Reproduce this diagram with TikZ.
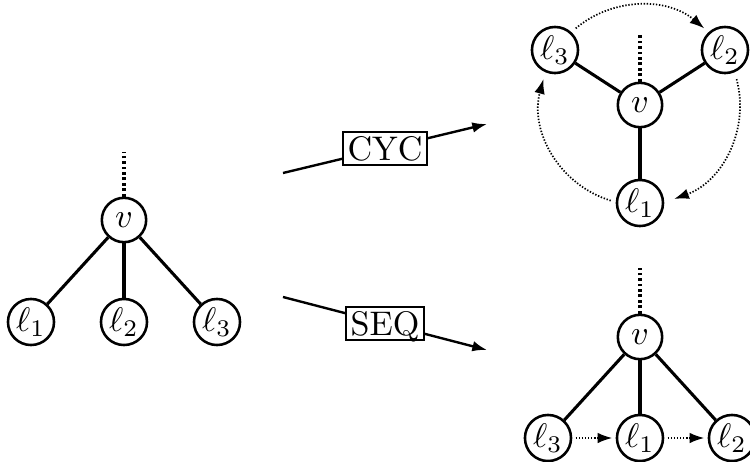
\documentclass[tikz,border=0pt]{standalone}
\usepackage{amsmath}
\usetikzlibrary{arrows.meta}
\begin{document}
\begin{tikzpicture}[x=1.03cm, y=1.03cm, >={Latex[length=4.3pt, width=3.1pt]}]
    \tikzset{vert/.style={draw, circle, line width=0.75pt, inner sep=0.5pt, minimum size=13pt}}
    \tikzset{op/.style={draw, line width=0.6pt, fill=white, inner sep=1.4pt, text depth=0pt}}
    \tikzset{edge/.style={line width=0.9pt}}
    \tikzset{up/.style={line width=0.9pt, dash pattern=on 0.8pt off 0.8pt}}
    \tikzset{move/.style={line width=0.5pt, dash pattern=on 0.4pt off 0.5pt, ->}}
    \useasboundingbox (0,0) rectangle (7.5,4.61);
    % input tree
    \node[vert] (v) at (1.24,2.41) {$v$};
    \node[vert] (l1) at (0.31,1.39) {$\ell_1$};
    \node[vert] (l2) at (1.24,1.39) {$\ell_2$};
    \node[vert] (l3) at (2.17,1.39) {$\ell_3$};
    \coordinate (vtop) at (1.24,3.09);
    \draw[up] (v) -- (vtop);
    \draw[edge] (v) -- (l1);
    \draw[edge] (v) -- (l2);
    \draw[edge] (v) -- (l3);
    % operations
    \coordinate (cycs) at (2.83,2.88);
    \coordinate (cyce) at (4.87,3.37);
    \coordinate (seqs) at (2.83,1.64);
    \coordinate (seqe) at (4.87,1.11);
    \draw[line width=0.7pt, ->] (cycs) -- node[op] {CYC} (cyce);
    \draw[line width=0.7pt, ->] (seqs) -- node[op] {SEQ} (seqe);
    % cyclic
    \node[vert] (cv) at (6.40,3.56) {$v$};
    \node[vert] (cl1) at (6.40,2.58) {$\ell_1$};
    \node[vert] (cl2) at (7.25,4.11) {$\ell_2$};
    \node[vert] (cl3) at (5.55,4.11) {$\ell_3$};
    \coordinate (cvtop) at (6.40,4.26);
    \draw[up] (cv) -- (cvtop);
    \draw[edge] (cv) -- (cl1);
    \draw[edge] (cv) -- (cl2);
    \draw[edge] (cv) -- (cl3);
    \draw[move] ([shift={(130:1.03cm)}]cv.center) arc[start angle=130, end angle=50, radius=1.03cm];
    \draw[move] ([shift={(15:1.03cm)}]cv.center) arc[start angle=15, end angle=-70, radius=1.03cm];
    \draw[move] ([shift={(253:1.03cm)}]cv.center) arc[start angle=253, end angle=165, radius=1.03cm];
    % sequential
    \node[vert] (sv) at (6.40,1.24) {$v$};
    \node[vert] (sl3) at (5.48,0.23) {$\ell_3$};
    \node[vert] (sl1) at (6.40,0.23) {$\ell_1$};
    \node[vert] (sl2) at (7.32,0.23) {$\ell_2$};
    \coordinate (svtop) at (6.40,1.93);
    \draw[up] (sv) -- (svtop);
    \draw[edge] (sv) -- (sl3);
    \draw[edge] (sv) -- (sl1);
    \draw[edge] (sv) -- (sl2);
    \draw[move, shorten <=1pt, shorten >=1pt] (sl3) -- (sl1);
    \draw[move, shorten <=1pt, shorten >=1pt] (sl1) -- (sl2);
\end{tikzpicture}
\end{document}
